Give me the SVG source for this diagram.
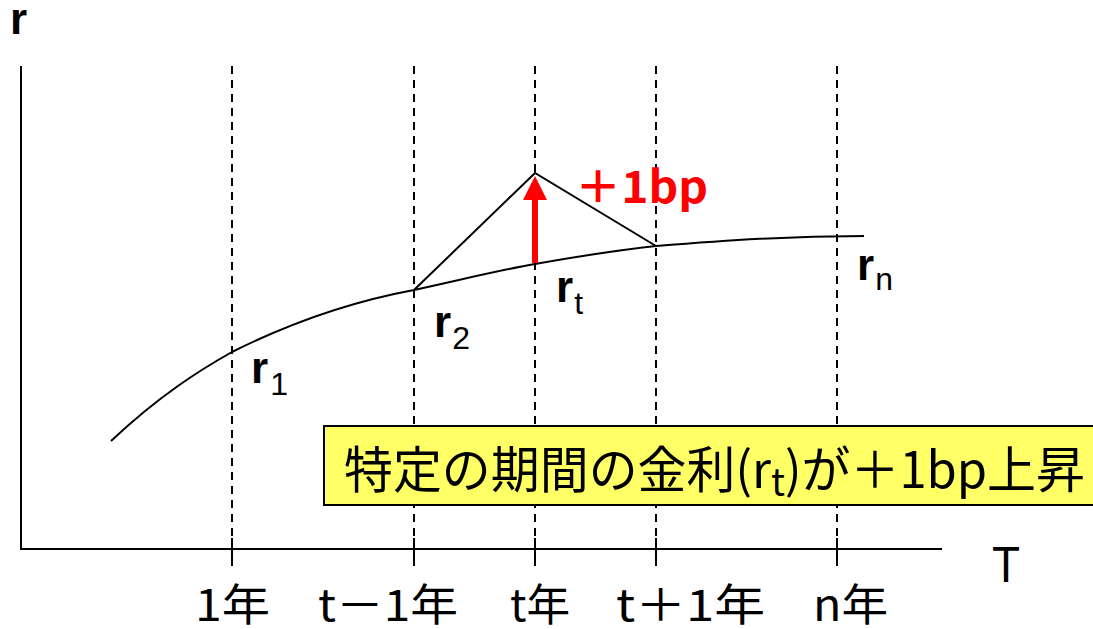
<svg xmlns="http://www.w3.org/2000/svg" width="1093" height="629" viewBox="0 0 1093 629">
<style>
.ax{stroke:#000;stroke-width:2;fill:none}
.dash{stroke:#000;stroke-width:2;stroke-dasharray:8,6;fill:none}
.tick{stroke:#000;stroke-width:2}
.lbl{font-family:"Liberation Sans","Noto Sans CJK JP",sans-serif;fill:#000;font-weight:bold}
.jp{font-family:"Noto Sans CJK JP","Liberation Sans",sans-serif;fill:#000}
</style>
<defs>
<marker id="ah" markerWidth="4" markerHeight="4" refX="2" refY="2" orient="auto" markerUnits="strokeWidth"><path d="M0,0 L4,2 L0,4 z" fill="#ff0000"/></marker>
</defs>
<rect width="1093" height="629" fill="#fff"/>
<g id="axes">
<line class="ax" x1="21" y1="66" x2="21" y2="550"/>
<line class="ax" x1="20" y1="549" x2="942" y2="549"/>
<text class="lbl" x="10" y="34" font-size="44">r</text>
<text x="992" y="582" font-size="50" font-family="Liberation Sans,sans-serif" textLength="28" lengthAdjust="spacingAndGlyphs">T</text>
</g>
<g id="gridlines">
<line class="dash" x1="232" y1="66" x2="232" y2="540"/>
<line class="dash" x1="414" y1="66" x2="414" y2="540"/>
<line class="dash" x1="535" y1="66" x2="535" y2="540"/>
<line class="dash" x1="656" y1="66" x2="656" y2="540"/>
<line class="dash" x1="837" y1="66" x2="837" y2="540"/>
<line class="tick" x1="232" y1="538" x2="232" y2="566"/>
<line class="tick" x1="414" y1="538" x2="414" y2="566"/>
<line class="tick" x1="535" y1="538" x2="535" y2="566"/>
<line class="tick" x1="656" y1="538" x2="656" y2="566"/>
<line class="tick" x1="837" y1="538" x2="837" y2="566"/>
</g>
<g id="curve">
<path class="ax" d="M111,441 C160,395 200,370 232,352 C300,318 360,300 414,290 C460,280 500,270 535,264 C580,256 620,250 656,246 C730,240 790,236 864,236"/>
</g>
<g id="bump">
<polyline class="ax" points="414,290 535,173 656,246"/>
<line x1="535" y1="263" x2="535" y2="188" stroke="#ff0000" stroke-width="6" marker-end="url(#ah)"/>
<text x="575" y="203" font-size="44" fill="#ff0000" font-weight="bold" font-family="Noto Sans CJK JP,Liberation Sans,sans-serif" textLength="133" lengthAdjust="spacingAndGlyphs">＋1bp</text>
</g>
<g id="labels">
<text class="lbl" x="251" y="383" font-size="44">r<tspan font-size="32" font-weight="normal" dy="12" dx="2">1</tspan></text>
<text class="lbl" x="434" y="337" font-size="44">r<tspan font-size="32" font-weight="normal" dy="12" dx="1">2</tspan></text>
<text class="lbl" x="556" y="302" font-size="44">r<tspan font-size="32" font-weight="normal" dy="12" dx="1">t</tspan></text>
<text class="lbl" x="857" y="280" font-size="44">r<tspan font-size="32" font-weight="normal" dy="10" dx="1">n</tspan></text>
</g>
<g id="note">
<rect x="324" y="426" width="772" height="79" fill="#ffff66" stroke="#000" stroke-width="2"/>
<text class="jp" x="344" y="488" font-size="50" textLength="741" lengthAdjust="spacingAndGlyphs">特定の期間の金利(r<tspan font-size="38" dy="8">t</tspan><tspan dy="-8">)が＋1bp上昇</tspan></text>
</g>
<g id="xlabels">
<text class="jp" x="195" y="621" font-size="44" textLength="75" lengthAdjust="spacingAndGlyphs">1年</text>
<text class="jp" x="318" y="621" font-size="44" textLength="140" lengthAdjust="spacingAndGlyphs">t－1年</text>
<text class="jp" x="510" y="621" font-size="44" textLength="60" lengthAdjust="spacingAndGlyphs">t年</text>
<text class="jp" x="616" y="621" font-size="44" textLength="149" lengthAdjust="spacingAndGlyphs">t＋1年</text>
<text class="jp" x="813" y="621" font-size="44" textLength="75" lengthAdjust="spacingAndGlyphs">n年</text>
</g>
</svg>
